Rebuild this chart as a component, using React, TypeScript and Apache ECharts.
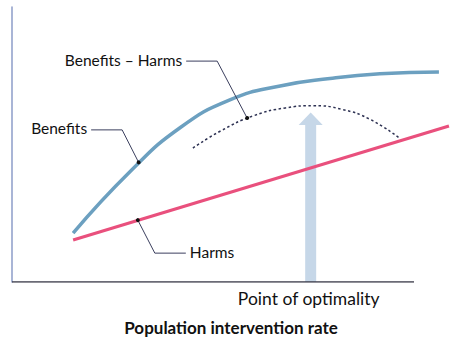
import React, { useEffect, useRef } from "react";
import * as echarts from "echarts";

// Benefits curve [x, y] in data units (x axis line spans 0-100, y: 0-100)
const benefits: number[][] = [
  [15.2, 17.8], [29.4, 40.2], [41.8, 56.1], [54.2, 66.2],
  [66.7, 71.3], [79.1, 74.0], [91.5, 75.7], [106.2, 76.4],
];
// Harms straight line
const harms: number[][] = [[15.2, 15.3], [108.7, 56.7]];
// Benefits – Harms (dotted)
const netBenefit: number[][] = [
  [45.0, 48.7], [52.0, 55.0], [60.0, 60.4], [68.0, 63.3], [75.0, 64.1],
  [82.0, 62.8], [89.0, 59.2], [96.3, 52.4],
];
// Point of optimality arrow: [x, from y, to y]
const optimality: number[][] = [[74.3, 0, 61.6]];
const optimalityLabel = "Point of optimality";
// Annotation anchors and labels
const annotationLabels = ["Benefits – Harms", "Benefits", "Harms"];
const annotationAnchors: number[][] = [[58.5, 59.6], [31.5, 43.5], [31.3, 22.5]];
const xAxisTitle = "Population intervention rate";
const baseline: number[][] = [[0, 0], [100, 0]];

const leaderOffsets = [
  { dx1: -30, dy1: -57, dx2: -31, ty: -1 },
  { dx1: -16.5, dy1: -32.5, dx2: -31, ty: -2 },
  { dx1: 17, dy1: 33, dx2: 31, ty: -1 },
];

const FONT = "Lato, 'Open Sans', sans-serif";

export default function App() {
  const ref = useRef<HTMLDivElement>(null);
  useEffect(() => {
    if (!ref.current) return;
    const chart = echarts.init(ref.current, undefined, { renderer: "svg" });
    chart.setOption({
      animation: false,
      backgroundColor: "#ffffff",
      grid: { left: 12, top: 7, width: 442.2, height: 275 },
      xAxis: {
        type: "value", min: 0, max: 110,
        axisLine: { show: false },
        axisTick: { show: false }, axisLabel: { show: false }, splitLine: { show: false },
      },
      yAxis: {
        type: "value", min: 0, max: 100,
        axisLine: { show: true, lineStyle: { color: "#8c9cc8", width: 1.5 } },
        axisTick: { show: false }, axisLabel: { show: false }, splitLine: { show: false },
      },
      graphic: [
        {
          type: "text", x: 231, y: 327,
          style: {
            text: xAxisTitle, align: "center", verticalAlign: "middle",
            fontFamily: FONT, fontSize: 17, fontWeight: "bold", fill: "#111",
          },
        },
      ],
      series: [
        {
          type: "line", data: baseline, showSymbol: false, z: 2, silent: true,
          lineStyle: { color: "#3a3a48", width: 1.5 },
        },
        {
          type: "custom", z: 1, clip: false,
          data: optimality,
          renderItem: (params: any, api: any) => {
            const base = api.coord([api.value(0), api.value(1)]);
            const top = api.coord([api.value(0), api.value(2)]);
            const cx = base[0];
            const sw = 5.5, hw = 12, hh = 12.5;
            return {
              type: "group",
              children: [
                {
                  type: "polygon",
                  shape: {
                    points: [
                      [cx - sw, base[1]], [cx - sw, top[1] + hh], [cx - hw, top[1] + hh],
                      [cx, top[1]], [cx + hw, top[1] + hh], [cx + sw, top[1] + hh],
                      [cx + sw, base[1]],
                    ],
                  },
                  style: { fill: "#c6d7e8" },
                },
                {
                  type: "text", x: cx - 2, y: base[1] + 16,
                  style: {
                    text: optimalityLabel, align: "center", verticalAlign: "middle",
                    fontFamily: FONT, fontSize: 17.5, fill: "#111",
                  },
                },
              ],
            };
          },
        },
        {
          type: "line", data: benefits, smooth: 0.5, showSymbol: false, z: 3,
          lineStyle: { color: "#6ca0c0", width: 3.5 },
        },
        {
          type: "line", data: harms, showSymbol: false, z: 3,
          lineStyle: { color: "#e9507d", width: 3.2 },
        },
        {
          type: "line", data: netBenefit, smooth: 0.5, showSymbol: false, z: 3,
          lineStyle: { color: "#2d3152", width: 1.5, type: [2.5, 2.5] },
        },
        {
          type: "custom", z: 5, clip: false,
          data: annotationAnchors,
          renderItem: (params: any, api: any) => {
            const i = params.dataIndex;
            const p = api.coord([api.value(0), api.value(1)]);
            const o = leaderOffsets[i];
            const e = [p[0] + o.dx1, p[1] + o.dy1];
            const f = [e[0] + o.dx2, e[1]];
            const left = o.dx2 < 0;
            return {
              type: "group",
              children: [
                {
                  type: "polyline",
                  shape: { points: [p, e, f] },
                  style: { stroke: "#3b3f5e", lineWidth: 1, fill: null },
                },
                { type: "circle", shape: { cx: p[0], cy: p[1], r: 2 }, style: { fill: "#111" } },
                {
                  type: "text", x: f[0] + (left ? -4 : 4), y: f[1] + o.ty,
                  style: {
                    text: annotationLabels[i], align: left ? "right" : "left",
                    verticalAlign: "middle", fontFamily: FONT, fontSize: 15.5, fill: "#111",
                  },
                },
              ],
            };
          },
        },
      ],
    });
    return () => chart.dispose();
  }, []);
  return (
    <div
      ref={ref}
      style={{ position: "fixed", left: 0, top: 0, width: 472, height: 351 }}
    />
  );
}
